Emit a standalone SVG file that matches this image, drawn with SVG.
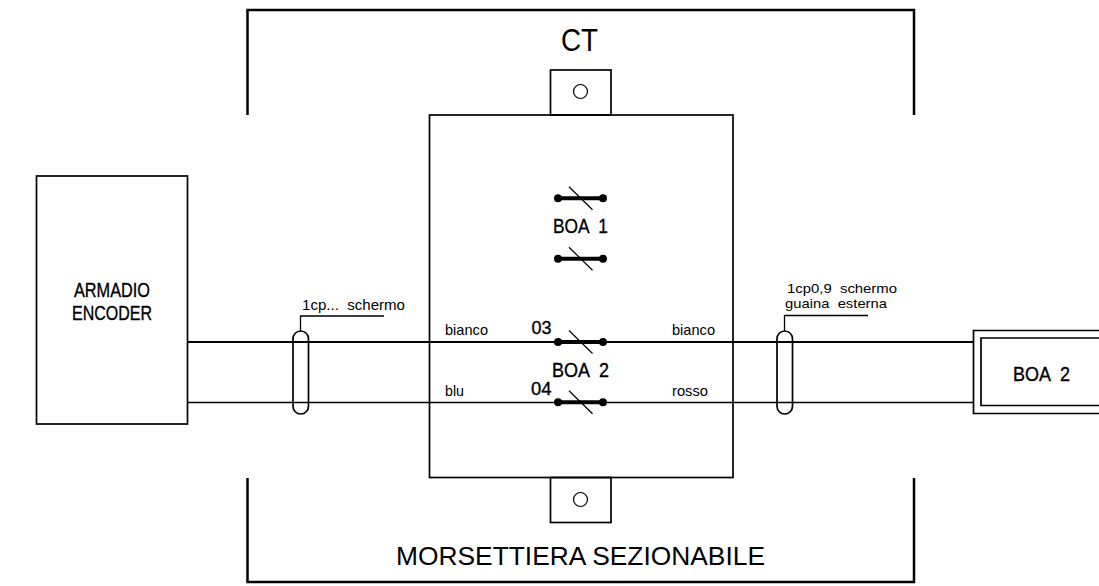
<svg xmlns="http://www.w3.org/2000/svg" width="1099" height="586" viewBox="0 0 1099 586">
<defs>
<g id="sw">
<line x1="558" y1="0" x2="603" y2="0" stroke="#000" stroke-width="4"/>
<circle cx="558" cy="0" r="4" fill="#000"/>
<circle cx="603" cy="0" r="4" fill="#000"/>
<line x1="569" y1="-11.500" x2="592.500" y2="11.500" stroke="#000" stroke-width="1.200"/>
</g>
</defs>
<style>
.l{fill:none;stroke:#000;stroke-width:1.700}
.h{fill:none;stroke:#000;stroke-width:2.500}
text{font-family:"Liberation Sans",Arial,sans-serif;fill:#000;white-space:pre}
.c{font-size:15px}
.t{font-size:13.500px}
.s{font-size:21px;stroke:#000;stroke-width:.35}
.n{font-size:19px;stroke:#000;stroke-width:.35}
.a{font-size:26px}
</style>
<rect width="1099" height="586" fill="#fff"/>
<g id="connectors">
<line x1="187" y1="342" x2="973" y2="342" stroke="#000" stroke-width="2"/>
<line x1="187" y1="402.500" x2="973" y2="402.500" stroke="#000" stroke-width="1.500"/>
<polyline class="l" points="300.500,331 300.500,316 384,316" style="stroke-width:1.300"/>
<polyline class="l" points="784.500,331 784.500,315.500 868,315.500" style="stroke-width:1.300"/>
</g>
<g id="ct-frame">
<polyline class="h" points="247.500,115 247.500,10 914,10 914,115"/>
<text x="561" y="51" textLength="37" lengthAdjust="spacingAndGlyphs" style="font-size:31px">CT</text>
</g>
<g id="morsettiera-frame">
<polyline class="h" points="247.500,478 247.500,582 914,582 914,478"/>
<text class="a" x="396" y="564.500" textLength="369" lengthAdjust="spacingAndGlyphs">MORSETTIERA SEZIONABILE</text>
</g>
<g id="terminal-block">
<rect class="l" x="429.500" y="115" width="303.500" height="362.500"/>
<rect class="l" x="550.500" y="70" width="60.500" height="45"/>
<circle class="l" cx="580.500" cy="91.500" r="7" style="stroke-width:1.200"/>
<rect class="l" x="550.500" y="477.500" width="60.500" height="45"/>
<circle class="l" cx="580.500" cy="499.500" r="7" style="stroke-width:1.200"/>
<use href="#sw" y="198.300"/>
<use href="#sw" y="258.700"/>
<use href="#sw" y="342"/>
<use href="#sw" y="402.300"/>
<text class="s" x="553" y="233" textLength="55" lengthAdjust="spacingAndGlyphs">BOA  1</text>
<text class="s" x="552" y="377" textLength="57" lengthAdjust="spacingAndGlyphs">BOA  2</text>
<text class="n" x="531.500" y="334" textLength="20" lengthAdjust="spacingAndGlyphs">03</text>
<text class="n" x="531" y="395" textLength="20.500" lengthAdjust="spacingAndGlyphs">04</text>
<text class="c" x="445" y="335" textLength="43" lengthAdjust="spacingAndGlyphs">bianco</text>
<text class="c" x="445" y="395.500" textLength="19" lengthAdjust="spacingAndGlyphs">blu</text>
<text class="c" x="672" y="335" textLength="43" lengthAdjust="spacingAndGlyphs">bianco</text>
<text class="c" x="672" y="395.500" textLength="36" lengthAdjust="spacingAndGlyphs">rosso</text>
</g>
<g id="armadio-encoder">
<rect class="l" x="36.500" y="176" width="151" height="248"/>
<text class="s" x="74" y="297" textLength="76" lengthAdjust="spacingAndGlyphs">ARMADIO</text>
<text class="s" x="72" y="319.500" textLength="80" lengthAdjust="spacingAndGlyphs">ENCODER</text>
</g>
<g id="cable-left">
<rect class="l" x="293" y="331" width="15.500" height="83" rx="7.750"/>
<text class="c" x="302" y="309.500" textLength="103" lengthAdjust="spacingAndGlyphs">1cp...  schermo</text>
</g>
<g id="cable-right">
<rect class="l" x="777" y="331" width="15.500" height="83" rx="7.750"/>
<text class="t" x="787" y="292.500" textLength="110" lengthAdjust="spacingAndGlyphs">1cp0,9  schermo</text>
<text class="t" x="785" y="308" textLength="102" lengthAdjust="spacingAndGlyphs">guaina  esterna</text>
</g>
<g id="boa-2">
<polyline class="l" points="1099,330.500 973.500,330.500 973.500,413.500 1099,413.500"/>
<polyline class="l" points="1099,338 981,338 981,405.500 1099,405.500"/>
<text class="s" x="1013" y="381" textLength="57" lengthAdjust="spacingAndGlyphs">BOA  2</text>
</g>
</svg>
